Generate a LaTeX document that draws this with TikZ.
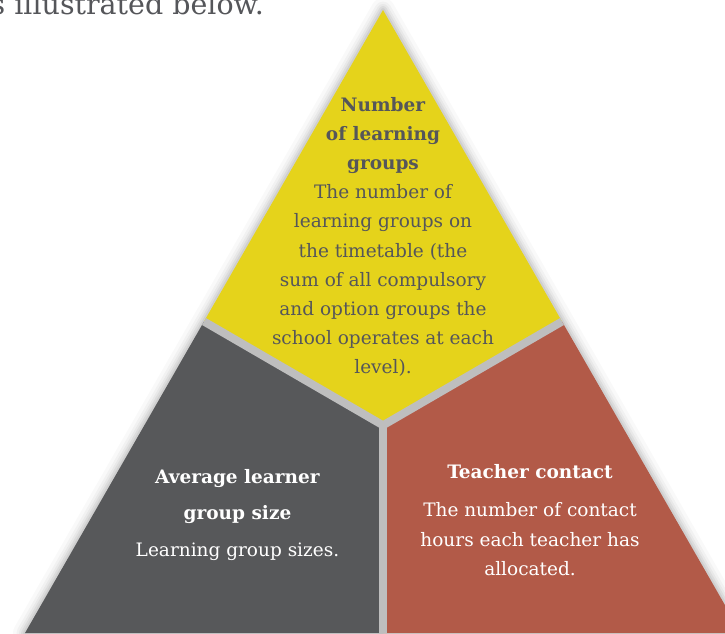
\documentclass[tikz,border=0pt]{standalone}
\usepackage{fontspec}
\setmainfont{DejaVu Serif}
\definecolor{ylw}{RGB}{229,211,27}
\definecolor{dgray}{RGB}{87,88,90}
\definecolor{rust}{RGB}{178,90,72}
\definecolor{gapgray}{RGB}{190,190,190}
\definecolor{txtgray}{RGB}{85,86,90}
\begin{document}
\begin{tikzpicture}[x=1pt,y=-1pt,
  bodytxt/.style={align=center, inner sep=0pt, font=\fontsize{18.5}{29.2}\selectfont},
  divider/.style={gapgray, line width=8pt}]
\useasboundingbox (0,0) rectangle (725,633);
\clip (0,0) rectangle (725,633);
% key points
\coordinate (A) at (383,10);
\coordinate (BL) at (25,633);
\coordinate (BR) at (741,633);
\coordinate (C) at (383,425.3);
\coordinate (ML) at (204,321.5);
\coordinate (MR) at (562,321.5);
\coordinate (MB) at (383,633);
% heading fragment
\node[anchor=base east, inner sep=0pt, text=txtgray, font=\fontsize{28.5}{32}\selectfont] (head) at (264,14) {as illustrated below.};
% soft shadow
\foreach \w/\o in {24/0.025,17/0.03,12/0.04,8/0.05,4/0.06}
  \draw[line width=\w pt, draw opacity=\o, line join=round] (A) -- (BL) -- (BR) -- cycle;
% pieces
\fill[ylw] (A) -- (ML) -- (C) -- (MR) -- cycle;
\fill[dgray] (ML) -- (BL) -- (MB) -- (C) -- cycle;
\fill[rust] (MR) -- (BR) -- (MB) -- (C) -- cycle;
% dividers
\draw[divider] (C) -- (ML);
\draw[divider] (C) -- (MR);
\draw[divider] (C) -- (MB);
% texts
\node[bodytxt, text=txtgray] (top) at (383,237) {\textbf{Number}\\ \textbf{of learning}\\ \textbf{groups}\\ The number of\\ learning groups on\\ the timetable (the\\ sum of all compulsory\\ and option groups the\\ school operates at each\\ level).};
\node[bodytxt, text=white, font=\fontsize{18.5}{36.5}\selectfont] (left) at (237.5,515) {\textbf{Average learner}\\ \textbf{group size}\\ Learning group sizes.};
\node[bodytxt, text=white] (right) at (530,520) {\textbf{Teacher contact}\\[9pt] The number of contact\\ hours each teacher has\\ allocated.};
\end{tikzpicture}
\end{document}
